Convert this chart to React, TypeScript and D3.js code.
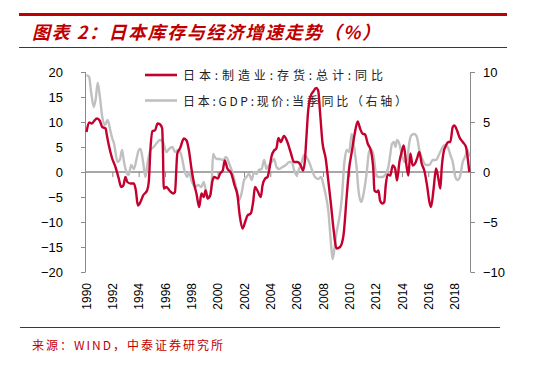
import React from "react";
import * as d3 from "d3";

// 日本:制造业:存货:总计:同比 (left axis) — [year, %]
const inventorySeries: [number, number][] = [
  [1990.0, 8], [1990.2, 9.9], [1990.4, 9.7], [1990.55, 10.1], [1990.8, 10.7], [1991.0, 10.3],
  [1991.2, 9], [1991.45, 8.7], [1991.55, 7.3], [1991.7, 5.3], [1991.95, 2.7], [1992.2, 1.0],
  [1992.45, -1.3], [1992.63, -3], [1992.8, -2.7], [1992.96, -1], [1993.1, -2], [1993.34, -2.3],
  [1993.6, -2.3], [1993.75, -3.7], [1993.9, -6.7], [1994.1, -6], [1994.3, -4.7], [1994.6, -3.7],
  [1994.73, -2], [1994.86, 4.7], [1995.0, 8.2], [1995.2, 8.3], [1995.4, 9.7], [1995.6, 9.5],
  [1995.75, 8.7], [1995.8, 5], [1995.87, -3.3], [1996.07, -3], [1996.3, -3.7], [1996.58, -4.3],
  [1996.72, -4], [1996.9, 3.7], [1997.1, 4.7], [1997.4, 6.7], [1997.6, 6.3], [1997.8, 4],
  [1997.97, 0.7], [1998.17, -2.3], [1998.35, -4.3], [1998.56, -7], [1998.73, -4.3], [1998.9, -5],
  [1999.05, -3.7], [1999.2, -5.3], [1999.4, -4.7], [1999.55, -2], [1999.7, -1], [1999.98, -1.3],
  [2000.15, -0.3], [2000.35, 0.3], [2000.5, 2.3], [2000.7, 0.7], [2001.0, -0.3], [2001.25, -2.7],
  [2001.47, -4.7], [2001.64, -8.7], [2001.85, -11.3], [2002.05, -10], [2002.23, -8.7], [2002.48, -8.3],
  [2002.66, -6], [2002.8, -3], [2002.98, -3.7], [2003.24, -5], [2003.37, -2.7], [2003.57, -1.3],
  [2003.75, -1], [2003.87, 0.3], [2004.07, 3.3], [2004.25, 4.3], [2004.42, 4.7], [2004.58, 6.8],
  [2004.76, 6], [2005.0, 7.2], [2005.26, 6], [2005.5, 4], [2005.77, 2], [2006.02, 2],
  [2006.28, 1.3], [2006.45, 0.3], [2006.58, 2], [2006.7, 6.7], [2006.83, 12], [2007.04, 15.3],
  [2007.2, 16], [2007.45, 16.8], [2007.6, 16.3], [2007.74, 12], [2007.92, 6], [2008.17, 2.7],
  [2008.38, -2], [2008.58, -6.7], [2008.76, -11.3], [2009.0, -15.3], [2009.26, -15], [2009.52, -12.7],
  [2009.77, -4.7], [2009.95, 0.7], [2010.15, 4], [2010.35, 7.3], [2010.6, 10.1], [2010.78, 8.7],
  [2010.96, 7.7], [2011.16, 7.5], [2011.36, 5.7], [2011.6, 4.3], [2011.8, 0], [2011.87, -3.7],
  [2012.05, -4], [2012.18, -3.7], [2012.3, -5.7], [2012.48, -6.3], [2012.62, -6], [2012.73, -2.7],
  [2012.88, -0.5], [2013.08, -0.7], [2013.26, 1.3], [2013.44, 0.7], [2013.59, -1.7], [2013.77, 2],
  [2013.94, 4], [2014.1, 5.3], [2014.27, 2], [2014.45, -0.7], [2014.6, 3.7], [2014.78, 1.3],
  [2014.96, 1.7], [2015.11, 2.7], [2015.28, 4], [2015.46, 1.7], [2015.66, 0.3], [2015.87, -2.7],
  [2016.05, -6], [2016.17, -7], [2016.37, -3.3], [2016.55, 0.7], [2016.73, -1.3], [2016.88, -3.3],
  [2016.98, 0.7], [2017.13, 4], [2017.31, 5.3], [2017.49, 6], [2017.64, 6], [2017.82, 9],
  [2017.94, 9.3], [2018.15, 8.3], [2018.32, 7], [2018.58, 6], [2018.83, 5], [2018.96, 2.7],
  [2019.08, 0],
];

// 日本:GDP:现价:当季同比 (right axis) — [year, %]
const gdpSeries: [number, number][] = [
  [1990.0, 9.7], [1990.2, 9.5], [1990.35, 8], [1990.55, 6.5], [1990.7, 7.3], [1990.85, 8.9],
  [1991.0, 7.7], [1991.2, 5.5], [1991.4, 4.7], [1991.6, 5.2], [1991.8, 4.2], [1991.97, 3.3],
  [1992.1, 2.8], [1992.2, 2], [1992.35, 1], [1992.55, 1.3], [1992.7, 2.2], [1992.85, 1],
  [1993.03, 0], [1993.2, -0.3], [1993.4, 0.7], [1993.6, 0.3], [1993.8, 1.3], [1993.97, 2.2],
  [1994.1, 2.3], [1994.3, 1], [1994.48, -0.5], [1994.65, 1], [1994.86, 2.2], [1995.1, 2.5],
  [1995.4, 3], [1995.57, 3.2], [1995.82, 3], [1996.07, 2], [1996.27, 2.3], [1996.53, 2.5],
  [1996.72, 2], [1996.96, 2.2], [1997.2, 1.7], [1997.47, 0], [1997.65, -0.5], [1997.8, 0],
  [1997.97, -0.8], [1998.23, -1.5], [1998.48, -1.3], [1998.73, -1.5], [1998.9, -1], [1999.12, -2.2],
  [1999.32, -2.5], [1999.5, -1.3], [1999.62, 1.8], [1999.75, 1.5], [1999.9, 1.3], [2000.13, 1.3],
  [2000.38, 1.2], [2000.6, 1.5], [2000.88, 0.7], [2001.14, -0.3], [2001.4, -1.7], [2001.6, -2.8],
  [2001.8, -2], [2001.97, -0.8], [2002.15, -0.5], [2002.35, -0.2], [2002.55, -0.8], [2002.73, 0],
  [2002.9, -0.2], [2003.1, 0.2], [2003.3, 0.3], [2003.5, 1.2], [2003.67, 0.3], [2003.87, 0.7],
  [2004.07, 1], [2004.25, 1.3], [2004.43, 0.5], [2004.63, 0.3], [2004.88, 0.5], [2005.14, 0.7],
  [2005.4, 1], [2005.6, 1], [2005.77, 0.2], [2005.95, -0.3], [2006.15, 0.3], [2006.35, 1],
  [2006.53, 1.7], [2006.7, 1.5], [2006.91, 1], [2007.1, 0.3], [2007.36, -0.5], [2007.6, -0.7],
  [2007.82, -0.5], [2008.0, -1.3], [2008.17, -2.3], [2008.38, -4], [2008.5, -6], [2008.63, -8],
  [2008.7, -8.7], [2008.83, -7.7], [2009.0, -6], [2009.19, -4.7], [2009.39, -2.7], [2009.59, 1],
  [2009.77, 2.2], [2009.95, 2], [2010.15, 3.8], [2010.35, 2.3], [2010.53, 0.3], [2010.65, -1.7],
  [2010.86, -3], [2010.96, -2.7], [2011.11, -1.7], [2011.29, 0], [2011.46, 2], [2011.6, 2.3],
  [2011.8, 1.7], [2011.97, 0], [2012.12, -0.5], [2012.3, -0.5], [2012.48, -0.5], [2012.68, -0.3],
  [2012.93, 0.5], [2013.05, 1.5], [2013.2, 2.8], [2013.35, 3], [2013.47, 2.5], [2013.59, 3.2],
  [2013.77, 2.8], [2013.94, 1.8], [2014.15, 1], [2014.35, 1.2], [2014.53, 3], [2014.7, 3.7],
  [2014.9, 3.8], [2015.1, 3.5], [2015.28, 2.2], [2015.54, 1.2], [2015.79, 0.7], [2016.05, 0.7],
  [2016.3, 1.2], [2016.55, 1.2], [2016.8, 1.8], [2017.06, 2.5], [2017.24, 2.7], [2017.44, 2.5],
  [2017.64, 1.7], [2017.82, 1], [2018.02, -0.5], [2018.2, -0.8], [2018.4, -0.3], [2018.58, 1],
  [2018.75, 1.5], [2018.96, 2.2], [2019.08, 1.5],
];

const leftTicks = [-20, -15, -10, -5, 0, 5, 10, 15, 20];
const rightTicks = [-10, -5, 0, 5, 10];
const yearTicks = [1990, 1992, 1994, 1996, 1998, 2000, 2002, 2004, 2006, 2008, 2010, 2012, 2014, 2016, 2018];
const legendLabels = ["日本:制造业:存货:总计:同比", "日本:GDP:现价:当季同比（右轴）"];
const titleText = "图表 2：日本库存与经济增速走势（%）";
const sourceText = "来源：WIND，中泰证券研究所";

const RED = "#C4002F";
const GRAY = "#C0C0C0";
const AXIS = "#8A8A8A";
const BRAND = "#C00000";
const cjk = "'Noto Sans CJK SC', sans-serif";
const latin = "'Liberation Sans', Arial, sans-serif";

export default function App() {
  const width = 547;
  const height = 365;

  const x = d3.scaleLinear().domain([1990, 2019.17]).range([86.5, 470.5]);
  const yL = d3.scaleLinear().domain([-20, 20]).range([272, 72]);
  const yR = d3.scaleLinear().domain([-10, 10]).range([272, 72]);
  const fmt = d3.format("d");

  const invLine = d3
    .line<[number, number]>()
    .x((d) => x(d[0]))
    .y((d) => yL(d[1]))
    .curve(d3.curveMonotoneX);
  const gdpLine = d3
    .line<[number, number]>()
    .x((d) => x(d[0]))
    .y((d) => yR(d[1]))
    .curve(d3.curveMonotoneX);

  const leftX = 85.5;
  const rightX = 470.5;
  const zeroY = yL(0);

  return (
    <svg
      width={width}
      height={height}
      style={{ position: "absolute", left: 0, top: 0, background: "#fff" }}
    >
      {/* header */}
      <line x1={19} x2={507} y1={14.5} y2={14.5} stroke={BRAND} strokeWidth={3} />
      <text
        x={32}
        y={39}
        fontFamily={cjk}
        fontSize={18}
        fontWeight="bold"
        fontStyle="italic"
        fill={BRAND}
        textLength={348}
        lengthAdjust="spacing"
      >
        {titleText}
      </text>
      <line x1={19} x2={507} y1={47.5} y2={47.5} stroke={BRAND} strokeWidth={1} />

      {/* left axis */}
      <line x1={leftX} x2={leftX} y1={72} y2={272} stroke={AXIS} strokeWidth={1} />
      {leftTicks.map((t) => (
        <g key={"l" + t}>
          <line x1={81} x2={leftX} y1={Math.round(yL(t)) + 0.5} y2={Math.round(yL(t)) + 0.5} stroke={AXIS} />
          <text x={63} y={yL(t)} dy="0.35em" textAnchor="end" fontFamily={latin} fontSize={13} fill="#000">
            {fmt(t)}
          </text>
        </g>
      ))}

      {/* right axis */}
      <line x1={rightX} x2={rightX} y1={72} y2={272} stroke={AXIS} strokeWidth={1} />
      {rightTicks.map((t) => (
        <g key={"r" + t}>
          <line x1={rightX} x2={475} y1={Math.round(yR(t)) + 0.5} y2={Math.round(yR(t)) + 0.5} stroke={AXIS} />
          <text x={483} y={yR(t)} dy="0.35em" textAnchor="start" fontFamily={latin} fontSize={13} fill="#000">
            {fmt(t)}
          </text>
        </g>
      ))}

      {/* zero line with year ticks */}
      <line x1={leftX} x2={rightX} y1={zeroY} y2={zeroY} stroke={AXIS} strokeWidth={1.6} />
      {yearTicks.map((yr) => (
        <g key={yr}>
          {yr > 1990 && (
            <line x1={x(yr)} x2={x(yr)} y1={zeroY} y2={zeroY + 5} stroke={AXIS} strokeWidth={1} />
          )}
          <text
            transform={`translate(${x(yr)},283) rotate(-90)`}
            dy="0.35em"
            textAnchor="end"
            fontFamily={latin}
            fontSize={12}
            fill="#000"
          >
            {yr}
          </text>
        </g>
      ))}

      {/* legend */}
      <line x1={145} x2={177} y1={75} y2={75} stroke={RED} strokeWidth={2.6} />
      <text x={183} y={80} fontFamily={cjk} fontSize={12} fill="#222" textLength={200} lengthAdjust="spacing">
        {legendLabels[0]}
      </text>
      <line x1={145} x2={177} y1={100.5} y2={100.5} stroke={GRAY} strokeWidth={2.6} />
      <text x={183} y={105.5} fontFamily={cjk} fontSize={12} fill="#222" textLength={224} lengthAdjust="spacing">
        {legendLabels[1]}
      </text>

      {/* series */}
      <path d={gdpLine(gdpSeries) ?? ""} fill="none" stroke={GRAY} strokeWidth={2.4} strokeLinejoin="round" />
      <path d={invLine(inventorySeries) ?? ""} fill="none" stroke={RED} strokeWidth={2.4} strokeLinejoin="round" />

      {/* footer */}
      <line x1={20} x2={500} y1={327.5} y2={327.5} stroke={BRAND} strokeWidth={1} />
      <text x={32} y={350} fontFamily={cjk} fontSize={12} fill={BRAND} textLength={191} lengthAdjust="spacing">
        {sourceText}
      </text>
    </svg>
  );
}
